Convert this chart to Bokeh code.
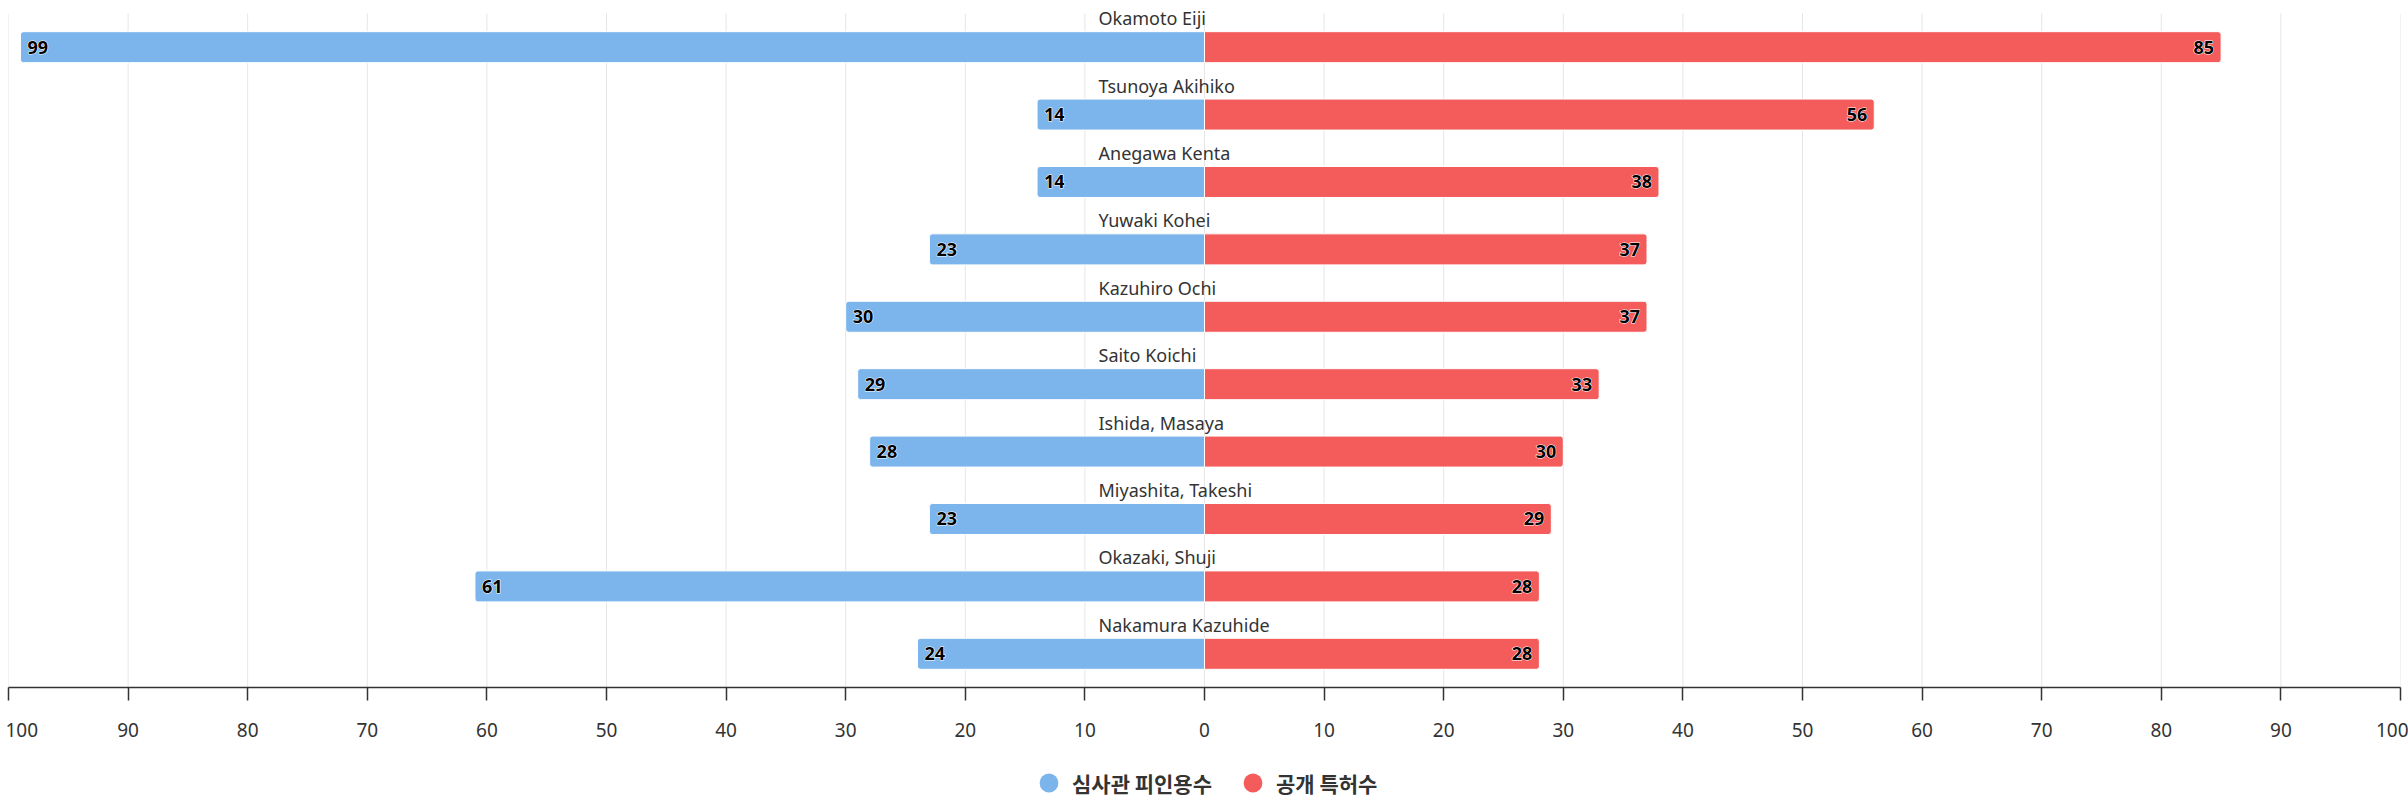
from bokeh.plotting import figure
from bokeh.layouts import column
from bokeh.models import (Range1d, FixedTicker, Legend, LegendItem, ColumnDataSource)
from bokeh.core.properties import value
from bokeh.embed import file_html
from bokeh.resources import INLINE

# ---- data ----
names = ["Okamoto Eiji", "Tsunoya Akihiko", "Anegawa Kenta", "Yuwaki Kohei",
         "Kazuhiro Ochi", "Saito Koichi", "Ishida, Masaya", "Miyashita, Takeshi",
         "Okazaki, Shuji", "Nakamura Kazuhide"]
cited = [99, 14, 14, 23, 30, 29, 28, 23, 61, 24]       # 심사관 피인용수
patents = [85, 56, 38, 37, 37, 33, 30, 29, 28, 28]      # 공개 특허수
series_names = ["심사관 피인용수", "공개 특허수"]
tick_values = [-100, -90, -80, -70, -60, -50, -40, -30, -20, -10, 0,
               10, 20, 30, 40, 50, 60, 70, 80, 90, 100]
tick_labels = ["100", "90", "80", "70", "60", "50", "40", "30", "20", "10", "0",
               "10", "20", "30", "40", "50", "60", "70", "80", "90", "100"]

BLUE = "#7cb5ec"
RED = "#f45b5b"
TXT = "#333333"

n = len(names)
ypos = [n - 1 - i for i in range(n)]   # first category at the top

src = ColumnDataSource(dict(
    name=names,
    y=ypos,
    neg=[-v for v in cited],
    pos=patents,
    neg_lbl=[str(v) for v in cited],
    pos_lbl=[str(v) for v in patents],
    zero=[0] * n,
))

TOP_PAD = 13 / 67.6   # room above the first band for its label
p = figure(width=2408, height=745, output_backend="svg", toolbar_location=None,
           x_range=Range1d(-100, 100), y_range=Range1d(-0.5, n - 0.5 + TOP_PAD),
           min_border_left=8, min_border_right=8, min_border_top=0,
           min_border_bottom=56)
p.outline_line_color = None
p.background_fill_color = "white"
p.border_fill_color = "white"
p.grid.visible = False

# vertical grid lines spanning the category bands
grid_src = ColumnDataSource(dict(x=tick_values,
                                 y0=[-0.5] * len(tick_values),
                                 y1=[n - 0.5] * len(tick_values)))
p.segment(x0="x", y0="y0", x1="x", y1="y1", source=grid_src,
          line_color="#e6e6e6", line_width=1)

# left edge tick label nudged slightly inward (as in the original)
overrides = {v: l for v, l in zip(tick_values, tick_labels)}
overrides[tick_values[0]] = "\u00a0" + tick_labels[0]

p.xaxis.ticker = FixedTicker(ticks=tick_values)
p.xaxis.major_label_overrides = overrides
p.xaxis.axis_line_color = "#333333"
p.xaxis.axis_line_width = 1.5
p.xaxis.major_tick_line_color = "#333333"
p.xaxis.major_tick_line_width = 1.5
p.xaxis.major_tick_in = 0
p.xaxis.major_tick_out = 13
p.xaxis.minor_tick_line_color = None
p.xaxis.major_label_standoff = 16
p.xaxis.major_label_text_font = "Noto Sans"
p.xaxis.major_label_text_font_size = "19px"
p.xaxis.major_label_text_color = TXT
p.yaxis.visible = False

# bars
p.hbar(y="y", left="neg", right="zero", height=0.46, source=src,
       fill_color=BLUE, line_color="white", line_width=1,
       border_radius=(3, 0, 0, 3))
p.hbar(y="y", left="zero", right="pos", height=0.46, source=src,
       fill_color=RED, line_color="white", line_width=1,
       border_radius=(0, 3, 3, 0))

# category labels above bars
p.text(x="zero", y="y", text="name", source=src, x_offset=-106, y_offset=-29,
       text_font=value("Noto Sans"), text_font_size="18px", text_color=TXT,
       text_align="left", text_baseline="middle")

# value labels (white halo layer, then black text)
common = dict(source=src, text_font=value("Noto Sans"), text_font_size="18px",
              text_font_style="bold", text_baseline="middle")
p.text(x="neg", y="y", text="neg_lbl", x_offset=7, text_align="left",
       text_color="white", text_outline_color="white", **common)
p.text(x="pos", y="y", text="pos_lbl", x_offset=-7, text_align="right",
       text_color="white", text_outline_color="white", **common)
p.text(x="neg", y="y", text="neg_lbl", x_offset=7, text_align="left",
       text_color="black", **common)
p.text(x="pos", y="y", text="pos_lbl", x_offset=-7, text_align="right",
       text_color="black", **common)

# ---- legend strip ----
lg = figure(width=2408, height=56, output_backend="svg", toolbar_location=None,
            x_range=Range1d(0, 1), y_range=Range1d(0, 1),
            min_border_left=0, min_border_right=0, min_border_top=0,
            min_border_bottom=0)
lg.axis.visible = False
lg.grid.visible = False
lg.outline_line_color = None
lb = lg.scatter(x=[-10], y=[-10], marker="circle", fill_color=BLUE, line_color=None)
lr = lg.scatter(x=[-10], y=[-10], marker="circle", fill_color=RED, line_color=None)
legend = Legend(items=[LegendItem(label=series_names[0], renderers=[lb]),
                       LegendItem(label=series_names[1], renderers=[lr])],
                location=(1017, -5), orientation="horizontal",
                glyph_width=47, glyph_height=47, label_standoff=0, spacing=17,
                padding=0, margin=0, label_height=47,
                label_text_font="Noto Sans CJK KR", label_text_font_size="21px",
                label_text_font_style="bold", label_text_color=TXT,
                background_fill_alpha=0, border_line_alpha=0)
lg.add_layout(legend, "center")

layout = column(p, lg, spacing=0)
open("out.html", "w").write(file_html(layout, INLINE))
